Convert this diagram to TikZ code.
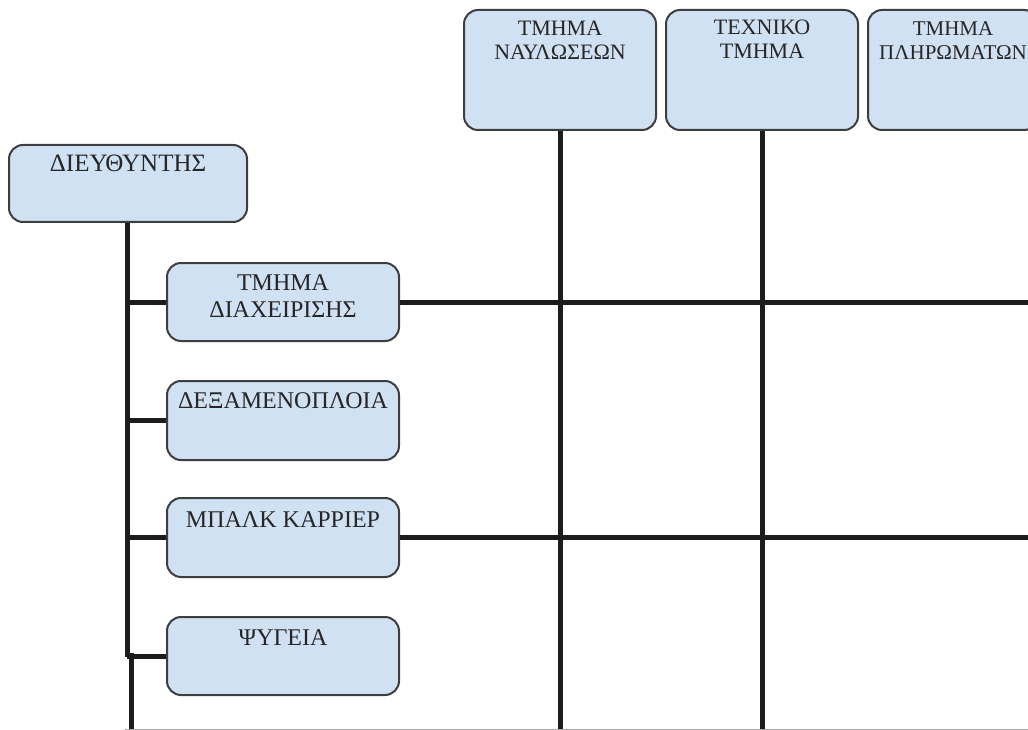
\documentclass[tikz,border=0pt]{standalone}
\usepackage{fontspec}
\setmainfont{Liberation Serif}
\definecolor{boxfill}{RGB}{208,225,244}
\definecolor{boxline}{RGB}{62,62,62}
\definecolor{linkcol}{RGB}{28,28,28}
\definecolor{edgegray}{RGB}{170,170,170}
% box text: width, height, first-baseline offset, font size, leading, text
\newcommand{\orgtext}[6]{\parbox[c][#2pt][t]{#1pt}{\centering\fontsize{#4}{#5}\selectfont\rule{0pt}{#3pt}#6}}
\tikzset{
  orgbox/.style={draw=boxline, line width=2pt, fill=boxfill, rounded corners=14pt,
    inner sep=0pt, text=black!85},
  link/.style={draw=linkcol, line width=5pt},
  edgeline/.style={draw=edgegray, line width=1.5pt}
}
\begin{document}
\begin{tikzpicture}[x=1pt, y=-1pt]
\useasboundingbox (0,0) rectangle (1028,730);
\fill[white] (0,0) rectangle (1028,730);
\begin{scope}
\clip (0,0) rectangle (1028,730);

% top row of departments
\node[orgbox] (nav) at (560,70) {\orgtext{192}{120}{26}{22}{24}{ΤΜΗΜΑ\\ΝΑΥΛΩΣΕΩΝ}};
\node[orgbox] (tech) at (762,70) {\orgtext{192}{120}{25}{22}{24}{ΤΕΧΝΙΚΟ\\ΤΜΗΜΑ}};
\node[orgbox] (pay) at (953,70) {\orgtext{170}{120}{26}{21}{24}{ΤΜΗΜΑ\\ΠΛΗΡΩΜΑΤΩΝ}};

% director
\node[orgbox] (dir) at (128,183.5) {\orgtext{238}{77}{27}{25}{27}{ΔΙΕΥΘΥΝΤΗΣ}};

% divisions
\node[orgbox] (man) at (283,302) {\orgtext{232}{78}{27}{24}{27}{ΤΜΗΜΑ\\ΔΙΑΧΕΙΡΙΣΗΣ}};
\node[orgbox] (tank) at (283,420.5) {\orgtext{232}{79}{27}{24}{27}{ΔΕΞΑΜΕΝΟΠΛΟΙΑ}};
\node[orgbox] (bulk) at (283,537.5) {\orgtext{232}{79}{29}{24}{27}{ΜΠΑΛΚ ΚΑΡΡΙΕΡ}};
\node[orgbox] (reef) at (283,656) {\orgtext{232}{78}{28}{24}{27}{ΨΥΓΕΙΑ}};

% reference points at the picture edges
\coordinate (trunkjog) at (127,657);
\coordinate (trunkend) at (131,730);
\coordinate (bottom) at (0,730);
\coordinate (rightedge) at (1030,0);

% director trunk and branches
\draw[link] (dir.south -| trunkjog) -- (trunkjog);
\draw[link] (reef.west -| trunkend) ++(0,-3) -- (trunkend);
\foreach \b in {man,tank,bulk,reef}
  \draw[link] (\b.west -| trunkjog) -- (\b.west);

% department verticals
\draw[link] (nav.south) -- (nav.south |- bottom);
\draw[link] (tech.south) -- (tech.south |- bottom);

% cross lines
\draw[link] (man.east) -- (man.east -| rightedge);
\draw[link] (bulk.east) -- (bulk.east -| rightedge);

% page edge
\draw[edgeline] (125,729.3) -- (1028,729.3);
\end{scope}
\end{tikzpicture}
\end{document}
